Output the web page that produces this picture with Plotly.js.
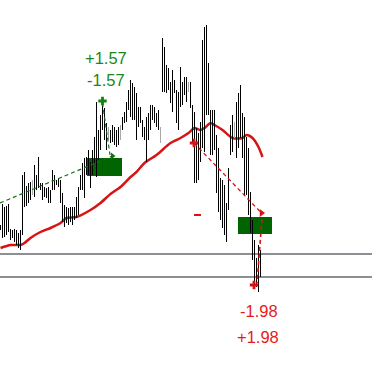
<!DOCTYPE html>
<html><head><meta charset="utf-8">
<script src="https://cdn.plot.ly/plotly-3.0.1.min.js"></script>
<style>html,body{margin:0;padding:0;background:#fff}#chart{width:372px;height:380px}</style>
</head><body><div id="chart"></div>
<script>
// bar highs / lows (price points), one per bar index
const barHigh=[155,176,173,174,176,151,150,151,150,147,
150,205,208,194,197,198,200,215,205,223,
197,197,193,192,193,190,210,205,200,202,
200,187,175,173,172,173,173,173,183,193,
205,217,222,223,230,218,230,243,278,250,
265,275,272,257,253,250,255,253,250,253,
255,263,268,278,290,300,297,293,287,273,
273,260,253,263,267,275,275,273,267,270,
253,342,333,315,312,298,310,300,290,288,
313,298,303,303,298,298,275,268,252,247,
258,340,353,355,317,270,270,270,245,232,
202,200,195,177,212,255,265,258,278,287,
295,267,263,243,232,188,160,140,122,135,
130];
const barLow=[150,142,143,145,148,140,142,138,135,132,
130,145,173,174,177,180,185,183,190,192,
190,180,183,182,177,177,190,190,195,193,
177,158,153,157,155,158,155,160,162,165,
190,190,182,205,205,192,205,217,203,220,
230,250,240,230,240,237,238,235,233,235,
240,250,257,258,270,263,260,260,240,253,
257,243,240,218,240,250,260,257,253,250,
237,288,288,287,290,277,268,287,257,250,
273,275,285,278,288,272,238,197,197,200,
218,232,228,265,265,225,225,230,187,168,
160,152,145,138,170,225,228,242,222,232,
242,222,185,185,165,147,120,93,93,88,
103];
const grayBars=[16,54,60,80,94,117];
// moving average read at selected bars
const maIdx=[0,5,10,12,15,20,25,30,33,38,45,50,55,60,65,68,72,78,85,90,94,97,100,102,105,107,111,116,121,123,126,129,131];
const maVal=[132,135,135,137,142,148,152,157,162,163,170,177,186,193,203,208,217,225,237,242,247,252,250,252,257,255,250,242,242,245,242,233,223];
// horizontal levels
const levels=[126,103];
// buy signal (green)
const buyBar=51, buyPrice=279;
const buyTrendIdx=[-0.25,56], buyTrendVal=[177,224];
const buyDropIdx=[51,54.75], buyDropVal=[277,225];
const buyBox={i0:43.25,i1:60.75,lo:204,hi:222};
const buyLabels=["+1.57","-1.57"], buyLabelIdx=52.75, buyLabelVal=[322,300];
// sell signal (red)
const sellBar=96.75, sellPrice=237;
const sellTrendIdx=[96.75,130.5], sellTrendVal=[237,167];
const sellDropIdx=[130.75,128.25], sellDropVal=[161,97];
const sellExitIdx=126.75, sellExitVal=95;
const sellDashIdx=[96.75,100.25], sellDashVal=[165,165];
const sellBox={i0:118.75,i1:135.75,lo:146,hi:163};
const sellLabels=["-1.98","+1.98"], sellLabelIdx=[129.25,128.5], sellLabelVal=[69,43];

const GREEN='rgb(0,100,0)', GLINE='rgb(20,110,20)', GTEXT='rgb(25,135,25)', RED='rgb(215,20,20)', RTEXT='rgb(230,25,25)';

function segs(idxs){const x=[],y=[];idxs.forEach(i=>{x.push(i,i,null);y.push(barLow[i],barHigh[i],null);});return {x,y};}
const all=barHigh.map((_,i)=>i);
const blackIdx=all.filter(i=>!grayBars.includes(i));
const b=segs(blackIdx), g=segs(grayBars);

const traces=[
 {x:maIdx,y:maVal,mode:'lines',line:{color:RED,width:2.5,shape:'spline',smoothing:0.7},hoverinfo:'skip'},
 {x:b.x,y:b.y,mode:'lines',line:{color:'#000',width:1},connectgaps:false,hoverinfo:'skip'},
 {x:g.x,y:g.y,mode:'lines',line:{color:'#a8a8a8',width:1},connectgaps:false,hoverinfo:'skip'},
 {x:buyTrendIdx,y:buyTrendVal,mode:'lines',line:{color:GLINE,width:1.2,dash:'4px,3px'}},
 {x:buyDropIdx,y:buyDropVal,mode:'lines',line:{color:GLINE,width:1.2,dash:'4px,3px'}},
 {x:[buyTrendIdx[1]],y:[buyTrendVal[1]],mode:'markers',marker:{symbol:'triangle-right',size:6,color:GLINE}},
 {x:[buyBar],y:[buyPrice],mode:'markers',marker:{symbol:'cross',size:7,color:'rgb(20,130,20)'}},
 {x:sellTrendIdx,y:sellTrendVal,mode:'lines',line:{color:RED,width:1.3,dash:'4px,3px'}},
 {x:sellDropIdx,y:sellDropVal,mode:'lines',line:{color:RED,width:1.6,dash:'4px,3px'}},
 {x:[sellTrendIdx[1]],y:[sellTrendVal[1]],mode:'markers',marker:{symbol:'triangle-right',size:7,color:RED}},
 {x:sellDashIdx,y:sellDashVal,mode:'lines',line:{color:RED,width:2}},
 {x:[sellBar],y:[sellPrice],mode:'markers',marker:{symbol:'cross',size:7,color:RED}},
 {x:[sellExitIdx],y:[sellExitVal],mode:'markers',marker:{symbol:'cross',size:7,color:RED}}
];

const shapes=[
 ...levels.map(v=>({type:'line',xref:'paper',x0:0,x1:1,y0:v,y1:v,line:{color:'#666b70',width:1.5},layer:'below'})),
 {type:'rect',x0:buyBox.i0,x1:buyBox.i1,y0:buyBox.lo,y1:buyBox.hi,fillcolor:GREEN,line:{width:0},layer:'below'},
 {type:'rect',x0:sellBox.i0,x1:sellBox.i1,y0:sellBox.lo,y1:sellBox.hi,fillcolor:GREEN,line:{width:0},layer:'below'}
];
const font={family:'Liberation Sans, Arial, sans-serif',size:16.5};
const annotations=[
 ...buyLabels.map((t,k)=>({x:buyLabelIdx,y:buyLabelVal[k],text:t,showarrow:false,font:{...font,color:GTEXT},xanchor:'center',yanchor:'middle'})),
 ...sellLabels.map((t,k)=>({x:sellLabelIdx[k],y:sellLabelVal[k],text:t,showarrow:false,font:{...font,color:RTEXT},xanchor:'center',yanchor:'middle'}))
];
const layout={width:372,height:380,margin:{l:0,r:0,t:0,b:0},paper_bgcolor:'#fff',plot_bgcolor:'#fff',showlegend:false,
 xaxis:{range:[-0.25,185.75],visible:false,fixedrange:true},
 yaxis:{range:[0,380],visible:false,fixedrange:true},
 shapes,annotations,hovermode:false};
Plotly.newPlot('chart',traces,layout,{staticPlot:true,displayModeBar:false});
</script></body></html>
